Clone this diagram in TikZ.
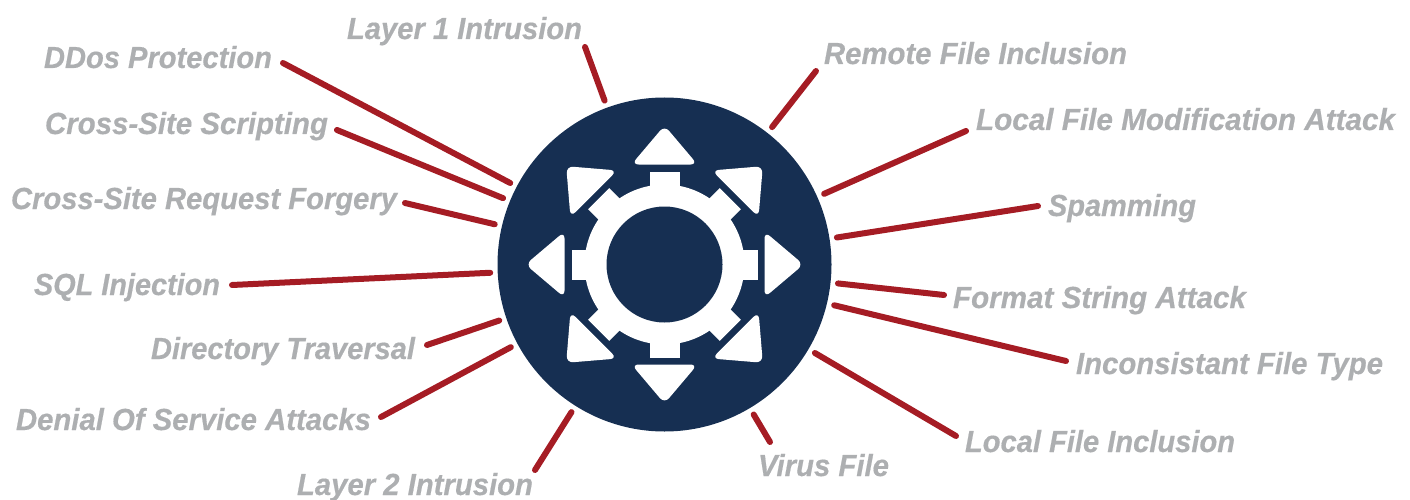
\documentclass[tikz,border=0pt]{standalone}
\usepackage{fontspec}
\usepackage{graphicx}
\setmainfont{Liberation Sans}[BoldItalicFeatures={FakeBold=0.5}]
\definecolor{navy}{HTML}{162F52}
\definecolor{wire}{HTML}{A51C24}
\definecolor{labelgrey}{HTML}{ADAFB1}
\newlength{\labw}
\newcommand{\labfont}{\fontsize{30.5}{31}\selectfont\bfseries\itshape}
% name, left x, right x, baseline y, text
\newcommand{\lab}[5]{%
  \pgfmathsetmacro{\laby}{#4-9}%
  \node[labelbox] (#1) at (#3,\laby) {\settowidth{\labw}{#5}\pgfmathsetmacro{\labf}{(#3-#2)/\labw}\scalebox{\labf}[1]{#5}};%
}
\tikzset{
  labelbox/.style={anchor=east,inner sep=0pt,outer sep=0pt,text height=22pt,text depth=4pt,
    text=labelgrey,font=\labfont},
  hubdisc/.style={circle,fill=navy,minimum size=334pt,inner sep=0pt,outer sep=7.5pt},
  wireline/.style={draw=wire,line width=6pt,line cap=round},
  hubwhite/.style={fill=white},
  arrowtri/.style={fill=white,rounded corners=7pt},
}
\begin{document}
\begin{tikzpicture}[x=1pt,y=-1pt]
\useasboundingbox (0,0) rectangle (1410,500);
\node[hubdisc] (hub) at (664.5,264.5) {};
% gear and arrows
\begin{scope}[shift={(664.5,264.5)}]
  \foreach \a in {0,45,...,315}{
    \fill[hubwhite,rotate=\a] (-15,-70) rectangle (15,-93);
    \fill[arrowtri,rotate=\a] (-33,-100) -- (0,-139) -- (33,-100) -- cycle;
  }
  \fill[hubwhite] (0,0) circle[radius=80];
  \fill[navy] (0,0) circle[radius=58];
\end{scope}
% labels
\lab{lay1}{347}{582}{39}{Layer 1 Intrusion}
\lab{ddos}{44}{272}{68}{DDos Protection}
\lab{xss}{45}{328}{134}{Cross-Site Scripting}
\lab{csrf}{11}{397}{209}{Cross-Site Request Forgery}
\lab{sqli}{34}{220}{295}{SQL Injection}
\lab{dirt}{151}{415}{359}{Directory Traversal}
\lab{dos}{16}{371}{430}{Denial Of Service Attacks}
\lab{lay2}{297}{533}{495}{Layer 2 Intrusion}
\lab{virus}{758}{889}{476}{Virus File}
\lab{lfi}{965}{1235}{452}{Local File Inclusion}
\lab{ift}{1076}{1383}{374}{Inconsistant File Type}
\lab{fsa}{953}{1246}{308}{Format String Attack}
\lab{spam}{1048}{1196}{216}{Spamming}
\lab{lfma}{976}{1395}{130}{Local File Modification Attack}
\lab{rfi}{824}{1127}{64}{Remote File Inclusion}
% connectors: offsets are from each label's east anchor
\draw[wireline] ([shift={(3,17)}]lay1.east) -- (hub);
\draw[wireline] ([shift={(11,4)}]ddos.east) -- (hub);
\draw[wireline] ([shift={(9,5)}]xss.east) -- (hub);
\draw[wireline] ([shift={(8,3)}]csrf.east) -- (hub);
\draw[wireline] ([shift={(12,-1)}]sqli.east) -- (hub);
\draw[wireline] ([shift={(12,-5)}]dirt.east) -- (hub);
\draw[wireline] ([shift={(10,-4)}]dos.east) -- (hub);
\draw[wireline] ([shift={(2,-16)}]lay2.east) -- (hub);
\draw[wireline] ([shift={(-119,-25)}]virus.east) -- (hub);
\draw[wireline] ([shift={(-279,-7)}]lfi.east) -- (hub);
\draw[wireline] ([shift={(-317,-4)}]ift.east) -- (hub);
\draw[wireline] ([shift={(-302,-4)}]fsa.east) -- (hub);
\draw[wireline] ([shift={(-158,-1)}]spam.east) -- (hub);
\draw[wireline] ([shift={(-429,10)}]lfma.east) -- (hub);
\draw[wireline] ([shift={(-311,16)}]rfi.east) -- (hub);
\end{tikzpicture}
\end{document}
